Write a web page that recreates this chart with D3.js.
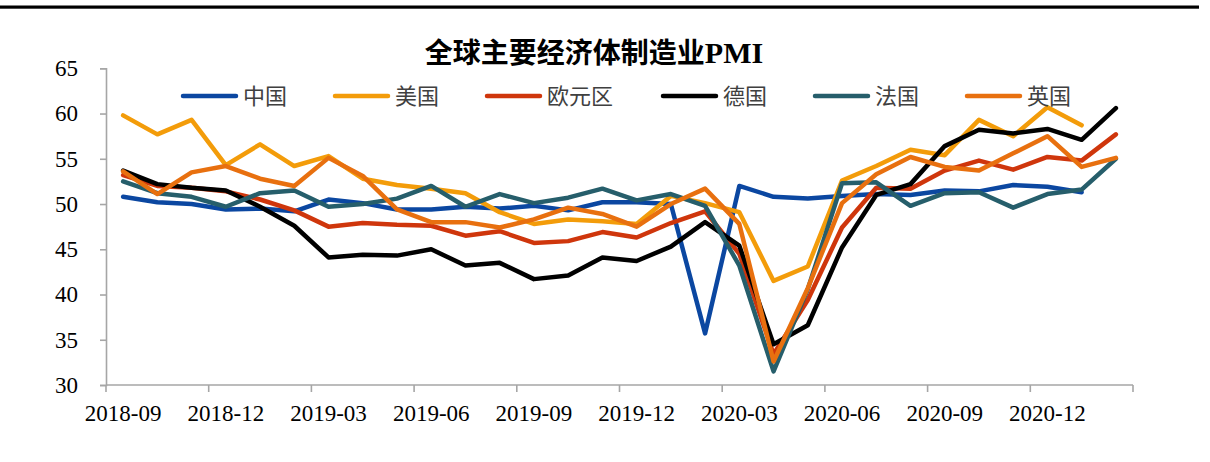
<!DOCTYPE html>
<html>
<head>
<meta charset="utf-8">
<script src="https://cdn.jsdelivr.net/npm/d3@7"></script>
<style>
  body { margin: 0; background: #fff; }
  svg { display: block; }
</style>
</head>
<body>
<div id="chart"></div>
<script>
// months on the category axis, 2018-09 .. 2021-02
const months = ["2018-09","2018-10","2018-11","2018-12","2019-01","2019-02","2019-03","2019-04","2019-05","2019-06",
  "2019-07","2019-08","2019-09","2019-10","2019-11","2019-12","2020-01","2020-02","2020-03","2020-04",
  "2020-05","2020-06","2020-07","2020-08","2020-09","2020-10","2020-11","2020-12","2021-01","2021-02"];
const tickLabels = ["2018-09","2018-12","2019-03","2019-06","2019-09","2019-12","2020-03","2020-06","2020-09","2020-12"];
const yTicks = [30, 35, 40, 45, 50, 55, 60, 65];

const names = ["中国", "美国", "欧元区", "德国", "法国", "英国"];
const colors = ["#0b47a1", "#f39c0a", "#cf360c", "#000000", "#265e6b", "#e8700f"];

const china = [50.8,50.2,50.0,49.4,49.5,49.2,50.5,50.1,49.4,49.4,49.7,49.5,49.8,49.3,50.2,50.2,50.0,35.7,52.0,50.8,50.6,50.9,51.1,51.0,51.5,51.4,52.1,51.9,51.3];
const usa = [59.8,57.7,59.3,54.3,56.6,54.2,55.3,52.8,52.1,51.7,51.2,49.1,47.8,48.3,48.1,47.8,50.9,50.1,49.1,41.5,43.1,52.6,54.2,56.0,55.4,59.3,57.5,60.7,58.7];
const euro = [53.2,52.0,51.8,51.4,50.5,49.3,47.5,47.9,47.7,47.6,46.5,47.0,45.7,45.9,46.9,46.3,47.9,49.2,44.5,33.4,39.4,47.4,51.8,51.7,53.7,54.8,53.8,55.2,54.8,57.7];
const germany = [53.7,52.2,51.8,51.5,49.7,47.6,44.1,44.4,44.3,45.0,43.2,43.5,41.7,42.1,44.1,43.7,45.3,48.0,45.4,34.5,36.6,45.2,51.0,52.2,56.4,58.2,57.8,58.3,57.1,60.6];
const france = [52.5,51.2,50.8,49.7,51.2,51.5,49.7,50.0,50.6,52.0,49.7,51.1,50.1,50.7,51.7,50.4,51.1,49.8,43.2,31.5,40.6,52.3,52.4,49.8,51.2,51.3,49.6,51.1,51.6,55.0];
const uk = [53.6,51.1,53.5,54.2,52.8,52.0,55.1,53.1,49.4,48.0,48.0,47.4,48.3,49.6,48.9,47.5,50.0,51.7,47.8,32.6,40.7,50.1,53.3,55.2,54.1,53.7,55.6,57.5,54.1,55.1];

const seriesData = [china, usa, euro, germany, france, uk];

const W = 1210, H = 462;
const plotLeft = 106, plotRight = 1133, plotTop = 68.3, plotBottom = 385;

const svg = d3.select("#chart").append("svg")
  .attr("width", W)
  .attr("height", H);

// thick rule at the top of the page
svg.append("rect")
  .attr("x", 0).attr("y", 5.5)
  .attr("width", 1199).attr("height", 3.2)
  .attr("fill", "#000");

const x = d3.scaleBand().domain(months).range([plotLeft, plotRight]);
const y = d3.scaleLinear().domain([30, 65]).range([plotBottom, plotTop]);
const cx = d => x(d) + x.bandwidth() / 2;

const axisColor = "#a6a6a6";
const tickFont = "'Liberation Serif', 'Times New Roman', serif";

// y axis
const yAxis = svg.append("g")
  .attr("transform", `translate(${plotLeft},0)`)
  .call(d3.axisLeft(y).tickValues(yTicks).tickSize(6).tickPadding(22));
yAxis.select(".domain").attr("stroke", axisColor).attr("stroke-width", 1.6);
yAxis.selectAll(".tick line").attr("stroke", axisColor).attr("stroke-width", 1.6);
yAxis.selectAll(".tick text")
  .style("font-family", tickFont)
  .style("font-size", "23px")
  .style("fill", "#000");

// x axis: tick marks on category boundaries every 3 months
const boundaryTicks = tickLabels.map(m => x(m)).concat([plotRight]);
const xg = svg.append("g");
xg.append("line")
  .attr("x1", plotLeft).attr("x2", plotRight)
  .attr("y1", plotBottom).attr("y2", plotBottom)
  .attr("stroke", axisColor).attr("stroke-width", 1.6);
xg.selectAll("line.tk")
  .data(boundaryTicks)
  .join("line")
  .attr("class", "tk")
  .attr("x1", d => d).attr("x2", d => d)
  .attr("y1", plotBottom).attr("y2", plotBottom + 7)
  .attr("stroke", axisColor).attr("stroke-width", 1.6);
xg.selectAll("text")
  .data(tickLabels)
  .join("text")
  .attr("x", d => cx(d))
  .attr("y", 421)
  .attr("text-anchor", "middle")
  .style("font-family", tickFont)
  .style("font-size", "23px")
  .style("fill", "#000")
  .text(d => d);

// lines
const line = d3.line()
  .x((d, i) => cx(months[i]))
  .y(d => y(d));

svg.append("g")
  .selectAll("path")
  .data(seriesData)
  .join("path")
  .attr("d", d => line(d))
  .attr("fill", "none")
  .attr("stroke", (d, i) => colors[i])
  .attr("stroke-width", 4.5)
  .attr("stroke-linejoin", "round")
  .attr("stroke-linecap", "round");

// title
const title = svg.append("text")
  .attr("x", 594).attr("y", 63)
  .attr("text-anchor", "middle")
  .style("font-family", "'Noto Sans CJK SC'")
  .style("font-weight", "bold")
  .style("font-size", "28px")
  .style("fill", "#000");
title.append("tspan").text("全球主要经济体制造业");
title.append("tspan").style("font-family", tickFont).style("font-size", "30px").text("PMI");

// legend
const legendX = [183, 335, 487, 663, 815, 967];
const lg = svg.append("g").selectAll("g")
  .data(names)
  .join("g")
  .attr("transform", (d, i) => `translate(${legendX[i]},96)`);
lg.append("line")
  .attr("x1", 0).attr("x2", 53)
  .attr("stroke", (d, i) => colors[i])
  .attr("stroke-width", 4.5)
  .attr("stroke-linecap", "round");
lg.append("text")
  .attr("x", 60).attr("y", 8)
  .style("font-family", "'Noto Sans CJK SC'")
  .style("font-size", "22px")
  .style("fill", "#404040")
  .text(d => d);
</script>
</body>
</html>
